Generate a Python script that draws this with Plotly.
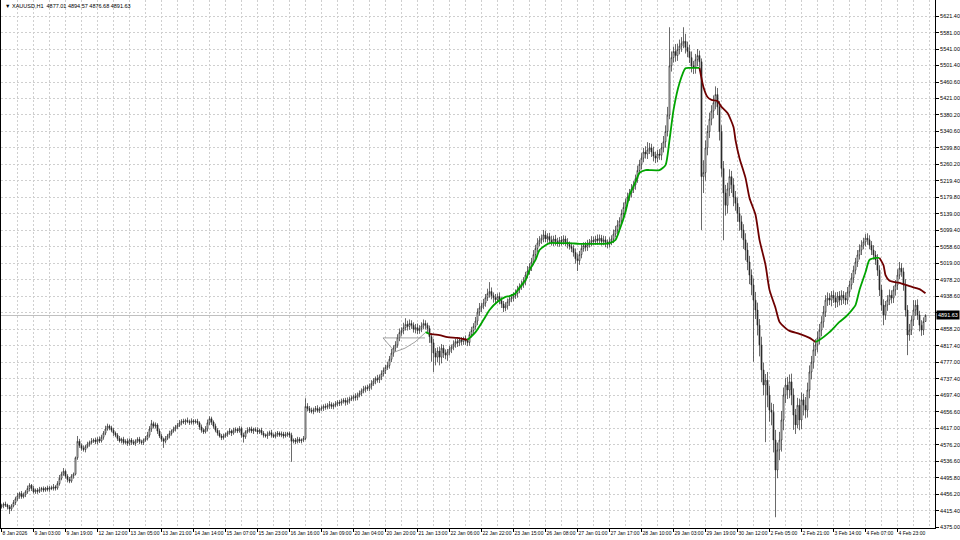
import plotly.graph_objects as go

# ---------------- data (XAUUSD H1) ----------------
close = [
    4428, 4432, 4430, 4425, 4420, 4428, 4436, 4445, 4452, 4458,
    4450, 4455, 4462, 4470, 4478, 4470, 4462, 4466, 4463, 4468,
    4470, 4466, 4471, 4468, 4472, 4470, 4474, 4471, 4482, 4495,
    4505, 4512, 4500, 4492, 4488, 4500, 4505, 4545, 4585, 4575,
    4568, 4565, 4572, 4578, 4582, 4585, 4588, 4584, 4590, 4586,
    4595, 4605, 4615, 4622, 4618, 4612, 4605, 4600, 4592, 4586,
    4590, 4582, 4585, 4580, 4588, 4583, 4580, 4586, 4590, 4584,
    4582, 4588, 4592, 4600, 4615, 4628, 4622, 4625, 4610, 4598,
    4590, 4585, 4592, 4598, 4604, 4610, 4615, 4620, 4624, 4630,
    4634, 4632, 4636, 4633, 4631, 4635, 4632, 4634, 4630, 4620,
    4612, 4608, 4615, 4630, 4640, 4632, 4622, 4612, 4605, 4598,
    4594, 4598, 4602, 4606, 4610, 4605, 4612, 4614, 4610, 4616,
    4600, 4596, 4608, 4612, 4615, 4610, 4614, 4612, 4608, 4612,
    4605, 4600, 4598, 4603, 4606, 4600, 4597, 4602, 4605, 4600,
    4603, 4598, 4601, 4604, 4600, 4585, 4588, 4584, 4590, 4586,
    4588, 4592, 4670, 4665, 4660, 4658, 4662, 4665, 4660, 4664,
    4666, 4670, 4668, 4672, 4675, 4670, 4673, 4676, 4680, 4678,
    4682, 4685, 4680, 4684, 4688, 4690, 4694, 4692, 4698, 4702,
    4708, 4712, 4716, 4714, 4720, 4726, 4732, 4738, 4735, 4742,
    4750, 4758, 4765, 4770, 4785, 4800, 4812, 4820, 4838, 4850,
    4855, 4862, 4870, 4865, 4872, 4868, 4858, 4862, 4855, 4860,
    4866, 4872, 4868, 4860, 4840, 4825, 4800, 4790, 4805, 4790,
    4812, 4800, 4795, 4803, 4810, 4815, 4822, 4828, 4825, 4832,
    4828, 4835, 4830, 4826, 4845, 4855, 4865, 4878, 4900, 4910,
    4915, 4922, 4935, 4945, 4950, 4940, 4935, 4930, 4938, 4928,
    4920, 4910, 4915, 4925, 4932, 4935, 4940, 4945, 4955, 4962,
    4968, 4975, 4990, 5000, 5010, 5022, 5040, 5055, 5068, 5075,
    5080, 5088, 5078, 5084, 5075, 5070, 5078, 5072, 5068, 5075,
    5072, 5078, 5070, 5065, 5060, 5055, 5045, 5030, 5025, 5040,
    5055, 5062, 5058, 5065, 5070, 5075, 5072, 5078, 5074, 5080,
    5072, 5076, 5070, 5065, 5072, 5078, 5090, 5100, 5112, 5122,
    5140, 5155, 5168, 5180, 5190, 5200, 5210, 5225, 5245, 5260,
    5275, 5290, 5285, 5295, 5300, 5290, 5280, 5275, 5285, 5282,
    5300, 5315, 5340, 5380, 5500, 5520, 5535, 5525, 5540, 5548,
    5555, 5560, 5545, 5535, 5520, 5500, 5495, 5515, 5525, 5510,
    5230, 5240, 5300, 5340, 5370, 5390, 5410, 5430, 5400, 5340,
    5250, 5190, 5160, 5200, 5230, 5210, 5180, 5165, 5140, 5120,
    5100, 5076, 5051, 5022, 4990, 4966, 4929, 4905, 4868, 4820,
    4759, 4722, 4734, 4698, 4661, 4656, 4588, 4515, 4564, 4588,
    4637, 4698, 4722, 4710, 4730, 4698, 4649, 4625, 4673, 4637,
    4686, 4673, 4661, 4710, 4754, 4778, 4808, 4820, 4837, 4856,
    4876, 4900, 4929, 4934, 4929, 4941, 4934, 4924, 4939, 4929,
    4941, 4934, 4929, 4949, 4966, 4983, 5002, 5022, 5039, 5051,
    5063, 5071, 5080, 5076, 5063, 5051, 5039, 5027, 5002, 4954,
    4917, 4893, 4917, 4929, 4941, 4934, 4954, 4966, 4990, 5007,
    4998, 4966, 4905, 4844, 4856, 4881, 4905, 4917, 4893, 4868,
    4856, 4877.01, 4891.63,
]

open_ = [
    4425, 4428, 4432, 4430, 4425, 4420, 4428, 4436, 4445, 4452,
    4458, 4450, 4455, 4462, 4470, 4478, 4470, 4462, 4466, 4463,
    4468, 4470, 4466, 4471, 4468, 4472, 4470, 4474, 4471, 4482,
    4495, 4505, 4512, 4500, 4492, 4488, 4500, 4505, 4545, 4585,
    4575, 4568, 4565, 4572, 4578, 4582, 4585, 4588, 4584, 4590,
    4586, 4595, 4605, 4615, 4622, 4618, 4612, 4605, 4600, 4592,
    4586, 4590, 4582, 4585, 4580, 4588, 4583, 4580, 4586, 4590,
    4584, 4582, 4588, 4592, 4600, 4615, 4628, 4622, 4625, 4610,
    4598, 4590, 4585, 4592, 4598, 4604, 4610, 4615, 4620, 4624,
    4630, 4634, 4632, 4636, 4633, 4631, 4635, 4632, 4634, 4630,
    4620, 4612, 4608, 4615, 4630, 4640, 4632, 4622, 4612, 4605,
    4598, 4594, 4598, 4602, 4606, 4610, 4605, 4612, 4614, 4610,
    4616, 4600, 4596, 4608, 4612, 4615, 4610, 4614, 4612, 4608,
    4612, 4605, 4600, 4598, 4603, 4606, 4600, 4597, 4602, 4605,
    4600, 4603, 4598, 4601, 4604, 4600, 4585, 4588, 4584, 4590,
    4586, 4588, 4592, 4670, 4665, 4660, 4658, 4662, 4665, 4660,
    4664, 4666, 4670, 4668, 4672, 4675, 4670, 4673, 4676, 4680,
    4678, 4682, 4685, 4680, 4684, 4688, 4690, 4694, 4692, 4698,
    4702, 4708, 4712, 4716, 4714, 4720, 4726, 4732, 4738, 4735,
    4742, 4750, 4758, 4765, 4770, 4785, 4800, 4812, 4820, 4838,
    4850, 4855, 4862, 4870, 4865, 4872, 4868, 4858, 4862, 4855,
    4860, 4866, 4872, 4868, 4860, 4840, 4825, 4800, 4790, 4805,
    4790, 4812, 4800, 4795, 4803, 4810, 4815, 4822, 4828, 4825,
    4832, 4828, 4835, 4830, 4826, 4845, 4855, 4865, 4878, 4900,
    4910, 4915, 4922, 4935, 4945, 4950, 4940, 4935, 4930, 4938,
    4928, 4920, 4910, 4915, 4925, 4932, 4935, 4940, 4945, 4955,
    4962, 4968, 4975, 4990, 5000, 5010, 5022, 5040, 5055, 5068,
    5075, 5080, 5088, 5078, 5084, 5075, 5070, 5078, 5072, 5068,
    5075, 5072, 5078, 5070, 5065, 5060, 5055, 5045, 5030, 5025,
    5040, 5055, 5062, 5058, 5065, 5070, 5075, 5072, 5078, 5074,
    5080, 5072, 5076, 5070, 5065, 5072, 5078, 5090, 5100, 5112,
    5122, 5140, 5155, 5168, 5180, 5190, 5200, 5210, 5225, 5245,
    5260, 5275, 5290, 5285, 5295, 5300, 5290, 5280, 5275, 5285,
    5282, 5300, 5315, 5340, 5380, 5500, 5520, 5535, 5525, 5540,
    5548, 5555, 5560, 5545, 5535, 5520, 5500, 5495, 5515, 5525,
    5510, 5230, 5240, 5300, 5340, 5370, 5390, 5410, 5430, 5400,
    5340, 5250, 5190, 5160, 5200, 5230, 5210, 5180, 5165, 5140,
    5120, 5100, 5076, 5051, 5022, 4990, 4966, 4929, 4905, 4868,
    4820, 4759, 4722, 4734, 4698, 4661, 4656, 4588, 4515, 4564,
    4588, 4637, 4698, 4722, 4710, 4730, 4698, 4649, 4625, 4673,
    4637, 4686, 4673, 4661, 4710, 4754, 4778, 4808, 4820, 4837,
    4856, 4876, 4900, 4929, 4934, 4929, 4941, 4934, 4924, 4939,
    4929, 4941, 4934, 4929, 4949, 4966, 4983, 5002, 5022, 5039,
    5051, 5063, 5071, 5080, 5076, 5063, 5051, 5039, 5027, 5002,
    4954, 4917, 4893, 4917, 4929, 4941, 4934, 4954, 4966, 4990,
    5007, 4998, 4966, 4905, 4844, 4856, 4881, 4905, 4917, 4893,
    4868, 4856, 4877.01,
]

# upper / lower shadow lengths (price units)
wick_up = [
    5, 4, 6, 3, 5, 4, 6, 5, 7, 4, 6, 5, 4, 7, 5, 3, 6, 4, 5, 6,
    4, 5, 3, 6, 4, 5, 7, 4, 6, 8, 6, 8, 4, 5, 6, 5, 4, 3, 13, 6,
    5, 7, 4, 6, 5, 8, 4, 6, 5, 7, 6, 5, 8, 6, 4, 5, 6, 4, 5, 6,
    4, 6, 5, 7, 4, 5, 6, 4, 5, 6, 5, 4, 6, 8, 7, 9, 5, 6, 4, 6,
    5, 4, 6, 5, 7, 4, 6, 5, 6, 7, 5, 6, 4, 7, 5, 6, 4, 5, 6, 4,
    6, 5, 7, 8, 6, 5, 4, 6, 5, 7, 5, 6, 4, 5, 7, 4, 6, 5, 4, 6,
    5, 6, 4, 7, 5, 6, 4, 5, 7, 4, 6, 5, 4, 6, 5, 7, 4, 6, 5, 4,
    6, 5, 7, 4, 5, 6, 4, 5, 6, 5, 4, 6, 20, 8, 6, 7, 5, 6, 8, 5,
    6, 5, 7, 6, 8, 5, 6, 7, 5, 6, 7, 5, 6, 8, 6, 7, 5, 8, 6, 7,
    6, 8, 5, 7, 6, 8, 7, 5, 9, 6, 8, 7, 6, 9, 8, 10, 7, 9, 8, 10,
    8, 12, 15, 9, 10, 8, 7, 9, 10, 8, 9, 10, 8, 6, 7, 8, 10, 12, 9, 11,
    10, 8, 9, 7, 8, 6, 9, 7, 8, 6, 7, 5, 8, 6, 7, 9, 8, 10, 9, 12,
    8, 10, 9, 12, 23, 10, 8, 9, 7, 10, 8, 7, 9, 8, 7, 9, 8, 10, 9, 8,
    9, 10, 8, 12, 9, 10, 11, 9, 12, 10, 9, 12, 10, 8, 9, 11, 8, 10, 9, 8,
    10, 9, 8, 10, 7, 9, 8, 10, 12, 9, 10, 8, 9, 11, 8, 10, 9, 8, 11, 9,
    8, 10, 9, 7, 10, 9, 11, 10, 12, 9, 10, 12, 9, 11, 10, 12, 9, 10, 12, 11,
    12, 10, 14, 19, 12, 10, 13, 11, 10, 12, 12, 14, 15, 20, 94, 15, 12, 18, 14, 16,
    15, 34, 18, 14, 16, 15, 12, 14, 16, 12, 8, 30, 18, 15, 16, 14, 18, 20, 16, 14,
    15, 18, 20, 15, 18, 14, 16, 15, 14, 16, 15, 14, 16, 18, 15, 14, 16, 20, 18, 15,
    20, 18, 15, 20, 22, 18, 20, 25, 18, 20, 22, 18, 17, 20, 18, 20, 16, 15, 18, 16,
    18, 15, 20, 18, 16, 15, 18, 14, 16, 15, 14, 15, 12, 14, 12, 10, 12, 14, 10, 12,
    12, 10, 14, 12, 10, 12, 11, 10, 12, 14, 12, 10, 10, 12, 11, 10, 12, 10, 14, 12,
    12, 14, 10, 12, 14, 12, 10, 12, 14, 15, 12, 10, 14, 12, 15, 10, 24, 12, 14, 10,
    12, 10, 2.94,
]

wick_dn = [
    4, 6, 5, 6, 12, 5, 4, 6, 5, 7, 5, 4, 6, 5, 7, 6, 4, 5, 6, 4,
    6, 5, 4, 5, 6, 4, 5, 6, 4, 5, 5, 4, 6, 7, 5, 4, 6, 3, 5, 6,
    6, 5, 7, 4, 6, 5, 4, 6, 7, 5, 4, 6, 5, 4, 6, 5, 7, 5, 6, 4,
    6, 5, 4, 6, 5, 7, 4, 6, 5, 6, 5, 6, 4, 5, 6, 7, 5, 6, 7, 5,
    6, 16, 5, 4, 6, 5, 4, 6, 5, 4, 6, 5, 7, 4, 6, 5, 6, 4, 5, 7,
    6, 5, 4, 6, 5, 7, 6, 5, 6, 4, 6, 5, 4, 6, 5, 7, 4, 6, 5, 4,
    6, 14, 5, 4, 6, 5, 7, 4, 6, 5, 5, 6, 4, 7, 5, 6, 4, 5, 6, 4,
    5, 6, 4, 5, 6, 50, 5, 6, 4, 5, 6, 5, 4, 7, 6, 5, 7, 6, 5, 6,
    5, 7, 6, 5, 8, 6, 7, 5, 6, 7, 6, 5, 8, 6, 7, 5, 6, 8, 7, 6,
    7, 6, 8, 6, 7, 9, 6, 8, 7, 8, 8, 7, 9, 6, 8, 7, 9, 8, 7, 9,
    8, 9, 7, 10, 8, 9, 8, 10, 9, 8, 9, 8, 10, 12, 15, 46, 46, 20, 12, 20,
    15, 12, 10, 14, 9, 10, 8, 9, 10, 8, 9, 8, 10, 9, 8, 7, 9, 8, 10, 9,
    10, 8, 9, 8, 10, 9, 12, 10, 8, 9, 10, 10, 8, 9, 10, 8, 9, 8, 10, 9,
    8, 9, 10, 8, 9, 10, 8, 9, 10, 8, 9, 10, 8, 9, 10, 8, 9, 10, 8, 9,
    10, 8, 9, 10, 8, 9, 10, 12, 25, 10, 9, 8, 10, 9, 8, 10, 9, 8, 10, 9,
    10, 9, 12, 10, 8, 9, 10, 8, 9, 10, 9, 10, 12, 10, 9, 11, 10, 12, 10, 9,
    12, 10, 11, 12, 10, 12, 13, 12, 10, 11, 12, 11, 14, 12, 10, 14, 12, 15, 13, 12,
    14, 12, 15, 14, 13, 16, 15, 14, 16, 14, 130, 40, 20, 18, 16, 15, 18, 16, 20, 22,
    20, 115, 25, 20, 18, 20, 22, 18, 20, 22, 20, 22, 25, 20, 22, 25, 150, 22, 25, 28,
    30, 25, 139, 30, 28, 32, 30, 115, 20, 25, 28, 25, 20, 22, 20, 25, 36, 22, 8, 25,
    22, 25, 20, 18, 20, 18, 16, 15, 18, 16, 15, 14, 12, 14, 12, 15, 12, 14, 12, 13,
    12, 14, 12, 10, 12, 11, 12, 10, 12, 11, 12, 10, 11, 12, 10, 12, 11, 12, 14, 15,
    14, 25, 12, 14, 12, 13, 12, 14, 12, 10, 12, 14, 16, 49, 14, 12, 15, 14, 12, 15,
    14, 12, 0.33,
]

# smoothed moving average, split into rising (green) / falling (maroon) legs
ma_up1_bar = [212, 214]
ma_up1 = [4851, 4847]
ma_dn1_bar = [214, 219, 223, 228, 233]
ma_dn1 = [4847, 4844, 4839, 4837, 4832]
ma_up2_bar = [233, 237, 241, 244, 248, 252, 254, 257, 259, 262, 264, 267, 269, 272, 274,
              279, 284, 289, 294, 299, 304, 307, 309, 312, 314, 317, 319, 322, 324, 329,
              332, 334, 336, 339, 342, 344, 349]
ma_up2 = [4832, 4851, 4881, 4905, 4925, 4937, 4939, 4946, 4959, 4978, 5002, 5027, 5051, 5063, 5068,
          5068, 5068, 5066, 5066, 5066, 5068, 5076, 5100, 5144, 5185, 5217, 5239, 5246, 5246, 5246,
          5258, 5319, 5392, 5458, 5494, 5495, 5495]
ma_dn2_bar = [349, 351, 353, 355, 358, 360, 363, 366, 367, 369, 372, 374, 377, 379, 382,
              384, 387, 389, 392, 394, 399, 404, 407]
ma_dn2 = [5495, 5448, 5424, 5417, 5414, 5400, 5385, 5351, 5319, 5275, 5227, 5178, 5137, 5076, 5015,
          4954, 4910, 4876, 4861, 4854, 4847, 4837, 4827]
ma_up3_bar = [407, 409, 414, 419, 422, 424, 427, 429, 432, 434, 437, 439]
ma_up3 = [4827, 4832, 4851, 4876, 4888, 4898, 4917, 4954, 4997, 5027, 5032, 5032]
ma_dn3_bar = [439, 441, 442, 444, 449, 454, 459, 462]
ma_dn3 = [5032, 5014, 4990, 4976, 4971, 4963, 4956, 4946]

# thin grey warm-up trace of the indicator
warm_bar = [190.75, 211.75, None, 190.75, 196.75, 201.75, 206.75, 211.75]
warm_val = [4837, 4837, None, 4837, 4803, 4812, 4827, 4849]

# axes
price_ticks = [5621.40, 5581.00, 5541.00, 5501.40, 5460.60, 5421.00, 5380.20, 5340.60,
               5299.80, 5260.20, 5219.40, 5179.80, 5139.00, 5099.40, 5058.60, 5019.00,
               4978.20, 4938.60, 4898.20, 4858.20, 4817.40, 4777.00, 4737.40, 4697.40,
               4656.60, 4617.00, 4576.20, 4536.60, 4495.80, 4456.20, 4415.40, 4375.00]
hidden_price_tick = 4898.20   # sits under the current-price tag
time_labels = ["8 Jan 2026", "9 Jan 03:00", "9 Jan 19:00", "12 Jan 12:00", "13 Jan 05:00",
               "13 Jan 21:00", "14 Jan 14:00", "15 Jan 07:00", "15 Jan 23:00", "16 Jan 16:00",
               "19 Jan 09:00", "20 Jan 04:00", "20 Jan 20:00", "21 Jan 13:00", "22 Jan 06:00",
               "22 Jan 22:00", "23 Jan 15:00", "26 Jan 08:00", "27 Jan 01:00", "27 Jan 17:00",
               "28 Jan 10:00", "29 Jan 03:00", "29 Jan 19:00", "30 Jan 12:00", "2 Feb 05:00",
               "2 Feb 21:00", "3 Feb 14:00", "4 Feb 07:00", "4 Feb 23:00"]
label_step = 16
symbol = "XAUUSD,H1"
last_price = 4891.63

# ---------------- figure ----------------
bars = list(range(len(close)))
high = [max(o, c) + u for o, c, u in zip(open_, close, wick_up)]
low = [min(o, c) - d for o, c, d in zip(open_, close, wick_dn)]

FONT = "Liberation Sans Narrow, Liberation Sans, Arial, sans-serif"
GREEN = "#00a400"
MAROON = "#6e0000"
CANDLE = "#2a2a2a"

fig = go.Figure()
fig.add_trace(go.Candlestick(
    x=bars, open=open_, high=high, low=low, close=close,
    increasing=dict(line=dict(color=CANDLE, width=0.7), fillcolor="#ffffff"),
    decreasing=dict(line=dict(color=CANDLE, width=0.7), fillcolor=CANDLE),
    whiskerwidth=0, hoverinfo="skip", showlegend=False,
))
fig.add_trace(go.Scatter(x=warm_bar, y=warm_val, mode="lines",
                         line=dict(color="#8a8a8a", width=0.8),
                         hoverinfo="skip", showlegend=False))
for bx, vy, col in [(ma_up1_bar, ma_up1, GREEN), (ma_dn1_bar, ma_dn1, MAROON),
                    (ma_up2_bar, ma_up2, GREEN), (ma_dn2_bar, ma_dn2, MAROON),
                    (ma_up3_bar, ma_up3, GREEN), (ma_dn3_bar, ma_dn3, MAROON)]:
    fig.add_trace(go.Scatter(x=bx, y=vy, mode="lines",
                             line=dict(color=col, width=1.8, shape="spline", smoothing=0.6),
                             hoverinfo="skip", showlegend=False))

grid = dict(showgrid=True, gridcolor="#cfcfcf", gridwidth=1, griddash="2px,2px")

fig.update_layout(
    width=960, height=540,
    margin=dict(l=1, r=25, t=0, b=12, autoexpand=False),
    paper_bgcolor="#ffffff", plot_bgcolor="#ffffff",
    font=dict(family=FONT, size=6, color="#000000"),
    showlegend=False,
    xaxis=dict(
        range=[-0.25, 466.75], rangeslider=dict(visible=False),
        tickmode="array",
        tickvals=[i * label_step for i in range(len(time_labels))],
        ticktext=time_labels, tickangle=0,
        ticks="outside", ticklen=3, tickcolor="#000000", tickwidth=1,
        ticklabelposition="outside right",
        tickfont=dict(size=5, family=FONT),
        showline=True, linecolor="#000000", linewidth=1,
        minor=dict(dtick=label_step / 2, tick0=0, ticks="", **grid),
        zeroline=False, fixedrange=True, automargin=False,
        **grid,
    ),
    yaxis=dict(
        side="right", range=[4373.78, 5660.41],
        tickmode="array", tickvals=price_ticks,
        ticktext=["" if v == hidden_price_tick else f"{v:.2f}" for v in price_ticks],
        ticks="outside", ticklen=3, tickcolor="#000000", tickwidth=1,
        tickfont=dict(size=5.5, family=FONT),
        showline=True, linecolor="#000000", linewidth=1, mirror=True,
        zeroline=False, fixedrange=True, automargin=False,
        **grid,
    ),
)

# bid line
fig.add_shape(type="line", xref="paper", x0=0, x1=1, yref="y", y0=last_price, y1=last_price,
              line=dict(color="#c0c0c0", width=1), layer="below")

# current price tag on the scale
fig.add_annotation(xref="paper", x=1, xanchor="left", xshift=1, yref="y", y=last_price,
                   text=f"{last_price:.2f}", showarrow=False, bgcolor="#000000",
                   font=dict(color="#ffffff", size=5.5, family=FONT), borderpad=1)

# header
fig.add_annotation(xref="paper", x=0.002, xanchor="left", yref="paper", y=1, yanchor="top",
                   yshift=-1,
                   text=f"▼ {symbol}  {open_[-1]:.2f} {high[-1]:.2f} {low[-1]:.2f} {close[-1]:.2f}",
                   showarrow=False, font=dict(size=5.5, family=FONT, color="#000000"))

fig.write_html("out.html", config={"displayModeBar": False, "staticPlot": True},
               post_script="document.body.style.margin='0';document.body.style.overflow='hidden';")
